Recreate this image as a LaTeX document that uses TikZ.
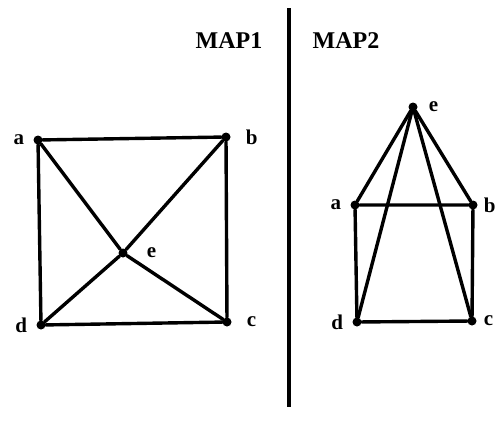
\documentclass[tikz,border=0pt]{standalone}
\usepackage{fontspec}
\setmainfont{Liberation Serif}
\usetikzlibrary{positioning}

\begin{document}
\begin{tikzpicture}[x=1pt,y=-1pt,font=\fontsize{21}{21}\selectfont\bfseries]
\tikzset{vx/.style={circle,fill=black,inner sep=0pt,minimum size=9pt},
         lbl/.style={inner sep=1pt},
         ttl/.style={inner sep=1pt,font=\fontsize{24}{24}\selectfont\bfseries},
         edge/.style={line width=3.4pt,line cap=round}}
\useasboundingbox (0,0) rectangle (499,434);
% divider
\draw[line width=3.5pt] (289,8) -- (289,407);
\node[ttl] (t1) at (229,41) {MAP1};
\node[ttl] (t2) at (346,41) {MAP2};
% MAP1
\node[vx] (a1) at (38,140) {};
\node[vx] (b1) at (226,137) {};
\node[vx] (c1) at (227,322) {};
\node[vx] (d1) at (41,325) {};
\node[vx] (e1) at (123,253) {};
\node[lbl,left=8pt of a1] {a};
\node[lbl,right=14pt of b1] {b};
\node[lbl,right=14pt of c1] {c};
\node[lbl,left=8pt of d1] {d};
\node[lbl,right=18pt of e1] {e};
\draw[edge] (a1) -- (b1) -- (c1) -- (d1) -- (a1);
\draw[edge] (a1) -- (e1) -- (c1); \draw[edge] (b1) -- (e1) -- (d1);
% MAP2
\node[vx] (a2) at (355,205) {};
\node[vx] (b2) at (473,205) {};
\node[vx] (c2) at (472,321) {};
\node[vx] (d2) at (357,322) {};
\node[vx] (e2) at (413,107) {};
\node[lbl,left=8pt of a2] {a};
\node[lbl,right=5pt of b2] {b};
\node[lbl,right=6pt of c2] {c};
\node[lbl,left=8pt of d2] {d};
\node[lbl,right=10pt of e2] {e};
\draw[edge] (a2) -- (b2) -- (c2) -- (d2) -- (a2);
\draw[edge] (a2) -- (e2) -- (b2); \draw[edge] (d2) -- (e2) -- (c2);
\end{tikzpicture}
\end{document}
